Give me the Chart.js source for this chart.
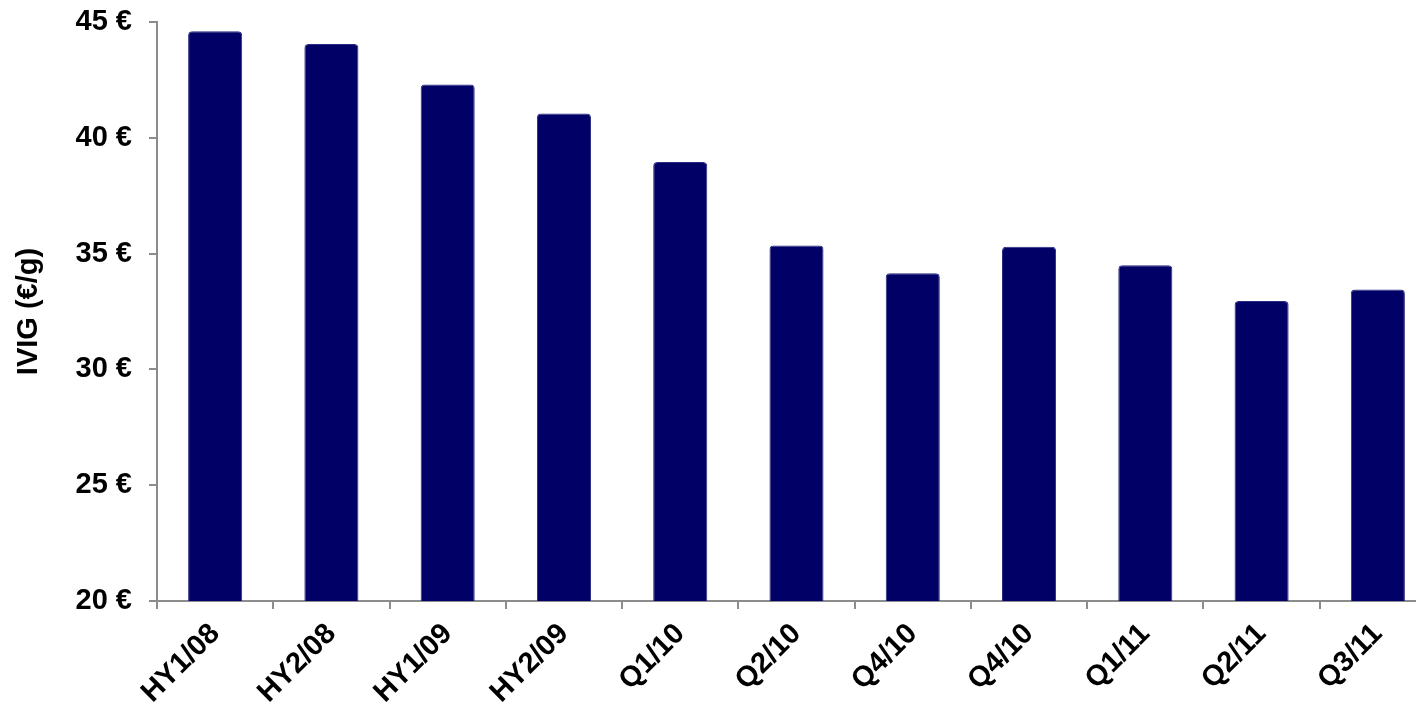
<!DOCTYPE html>
<html>
<head>
<meta charset="utf-8">
<script src="https://cdn.jsdelivr.net/npm/chart.js@4/dist/chart.umd.min.js"></script>
<style>
  html, body { margin: 0; padding: 0; background: #fff; overflow: hidden; }
  #wrap { width: 1440px; height: 705px; }
</style>
</head>
<body>
<div id="wrap"><canvas id="graficoIvig" width="1440" height="705"></canvas></div>
<script>
// periodos e preco medio IVIG (EUR por grama)
const periodos = ["HY1/08", "HY2/08", "HY1/09", "HY2/09", "Q1/10", "Q2/10", "Q4/10", "Q4/10", "Q1/11", "Q2/11", "Q3/11"];
const precos = [44.6, 44.05, 42.3, 41.05, 38.95, 35.35, 34.15, 35.3, 34.5, 32.95, 33.45];
const ticksY = [20, 25, 30, 35, 40, 45];

const fonte = { family: "Arial, 'Liberation Sans', sans-serif", size: 29, weight: "bold" };
const cinza = "#8c8c8c";

function gerarGrafico() {
  const ctx = document.getElementById("graficoIvig");

  new Chart(ctx, {
    type: "bar",
    data: {
      labels: periodos,
      datasets: [{
        data: precos,
        backgroundColor: "#000066",
        borderColor: "#2a2a80",
        borderWidth: 1,
        borderRadius: { topLeft: 4, topRight: 4 },
        borderSkipped: "start",
        barPercentage: 0.465,
        categoryPercentage: 1
      }]
    },
    options: {
      responsive: false,
      animation: false,
      layout: { padding: { top: 22, right: 4, left: 0, bottom: 0 } },
      plugins: { legend: { display: false }, tooltip: { enabled: false } },
      scales: {
        x: {
          grid: { display: true, drawOnChartArea: false, drawTicks: true, tickLength: 8, color: cinza, lineWidth: 2 },
          border: { display: true, color: cinza, width: 2 },
          ticks: { color: "#000", font: fonte, minRotation: 45, maxRotation: 45, padding: 8, autoSkip: false },
          afterFit: s => { s.height = 104; s.paddingLeft = 0; s.paddingRight = 0; }
        },
        y: {
          min: ticksY[0],
          max: ticksY[ticksY.length - 1],
          afterBuildTicks: s => { s.ticks = ticksY.map(v => ({ value: v })); },
          grid: { display: true, drawOnChartArea: false, drawTicks: true, tickLength: 8, color: cinza, lineWidth: 2 },
          border: { display: true, color: cinza, width: 2 },
          ticks: { color: "#000", font: fonte, padding: 17, callback: v => v + " €" },
          title: { display: true, text: "IVIG (€/g)", color: "#000", font: fonte, padding: { top: 12, bottom: 0 } },
          afterFit: s => { s.width = 157; s.paddingTop = 0; s.paddingBottom = 0; }
        }
      }
    }
  });
}

gerarGrafico();
</script>
</body>
</html>
